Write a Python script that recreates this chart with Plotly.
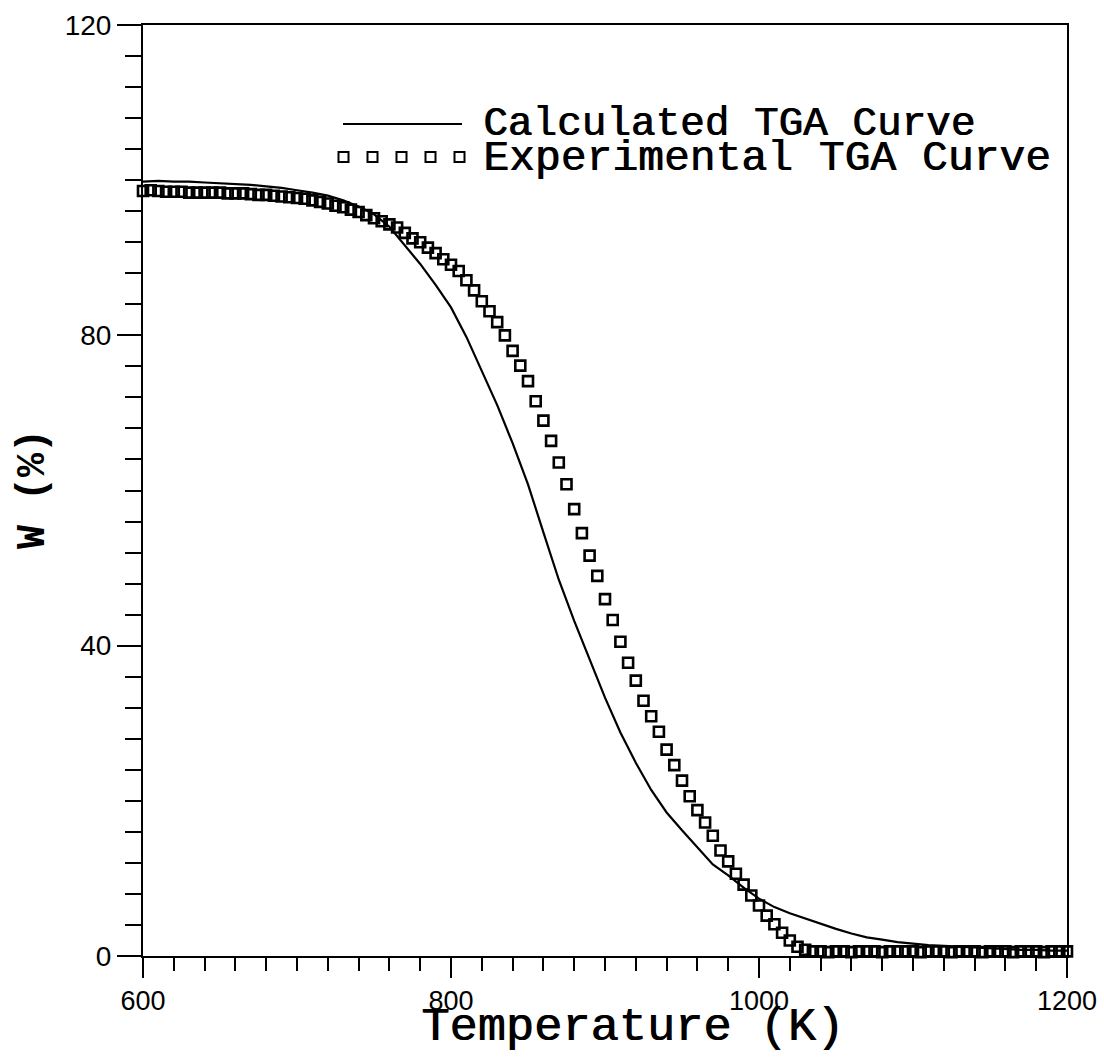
import plotly.graph_objects as go

# Experimental TGA curve (squares), every 5 K
exp_T = list(range(600, 1205, 5))
exp_W = [
    98.6, 98.7, 98.6, 98.5, 98.5, 98.5, 98.4, 98.4, 98.4, 98.4,   # 600-645
    98.4, 98.3, 98.3, 98.3, 98.2, 98.1, 98.1, 98.0, 97.9, 97.8,   # 650-695
    97.7, 97.6, 97.4, 97.2, 97.0, 96.7, 96.5, 96.2, 95.9, 95.5,   # 700-745
    95.1, 94.7, 94.3, 93.9, 93.2, 92.5, 92.0, 91.3, 90.6, 89.8,   # 750-795
    89.1, 88.3, 87.1, 85.8, 84.4, 83.1, 81.7, 80.0, 78.0, 76.1,   # 800-845
    74.1, 71.5, 69.0, 66.4, 63.6, 60.8, 57.6, 54.5, 51.6, 49.0,   # 850-895
    46.0, 43.3, 40.5, 37.8, 35.5, 32.9, 30.9, 28.9, 26.6, 24.6,   # 900-945
    22.6, 20.6, 18.8, 17.2, 15.5, 13.6, 12.2, 10.6, 9.2, 7.8,     # 950-995
    6.5, 5.2, 4.1, 3.0, 2.0, 1.2, 0.8, 0.6, 0.6, 0.5,             # 1000-1045
    0.6, 0.6, 0.5, 0.6, 0.6, 0.6, 0.5, 0.6, 0.6, 0.6,             # 1050-1095
    0.6, 0.5, 0.6, 0.6, 0.6, 0.5, 0.6, 0.6, 0.6, 0.5,             # 1100-1145
    0.6, 0.6, 0.6, 0.5, 0.6, 0.6, 0.6, 0.5, 0.6, 0.6,             # 1150-1195
    0.6,                                                          # 1200
]

# Calculated TGA curve (solid line)
calc_T = [600, 610, 620, 630, 640, 650, 660, 670, 680, 690,
          700, 710, 720, 730, 740, 750, 760, 770, 780, 790,
          800, 810, 820, 830, 840, 850, 860, 870, 880, 890,
          900, 910, 920, 930, 940, 950, 960, 970, 980, 990,
          1000, 1010, 1020, 1030, 1040, 1050, 1060, 1070, 1080, 1090,
          1100, 1110, 1120, 1130, 1140, 1150, 1160, 1170, 1180, 1190, 1200]
calc_W = [99.8, 99.9, 99.8, 99.8, 99.7, 99.6, 99.5, 99.4, 99.2, 99.0,
          98.7, 98.4, 98.0, 97.4, 96.6, 95.6, 94.0, 91.6, 89.2, 86.5,
          83.6, 79.8, 75.5, 71.0, 66.1, 60.8, 54.6, 48.5, 43.2, 38.3,
          33.3, 28.8, 24.9, 21.4, 18.5, 16.2, 14.0, 11.8, 10.4, 8.8,
          7.4, 6.3, 5.5, 4.8, 4.1, 3.5, 2.9, 2.4, 2.1, 1.8,
          1.6, 1.4, 1.3, 1.2, 1.1, 1.0, 0.9, 0.8, 0.8, 0.7, 0.7]

x_ticks = [600, 800, 1000, 1200]
y_ticks = [0, 40, 80, 120]
legend_labels = ["Calculated TGA Curve", "Experimental TGA Curve"]
x_title = "Temperature (K)"
y_title = "W (%)"

TITLE_FONT = "Liberation Mono"
TICK_FONT = "Liberation Sans"
THICK = "0.9px 0px 0px black"

fig = go.Figure()
fig.add_trace(go.Scatter(
    x=calc_T, y=calc_W, mode="lines",
    line=dict(color="black", width=2.2),
    name=legend_labels[0], cliponaxis=False, showlegend=False,
))
fig.add_trace(go.Scatter(
    x=exp_T, y=exp_W, mode="markers",
    marker=dict(symbol="square-open", size=10, color="black",
                line=dict(color="black", width=2.6)),
    name=legend_labels[1], cliponaxis=False, showlegend=False,
))

W, H = 1104, 1061
L, R, T, B = 143, 37, 25, 105
pw, ph = W - L - R, H - T - B

def px(xp):
    return (xp - L) / pw

def py(yp):
    return (H - B - yp) / ph

shapes = []
# legend line sample
shapes.append(dict(type="line", xref="paper", yref="paper",
                   x0=px(343), x1=px(462), y0=py(124), y1=py(124),
                   line=dict(color="black", width=2)))
# legend square samples
for cx in [343.5, 372.5, 401.5, 430.5, 459.5]:
    shapes.append(dict(type="rect", xref="paper", yref="paper",
                       x0=px(cx - 5), x1=px(cx + 5), y0=py(157 + 5), y1=py(157 - 5),
                       line=dict(color="black", width=2), fillcolor="rgba(0,0,0,0)"))

annotations = [
    dict(text=legend_labels[0], xref="paper", yref="paper", x=px(481), y=py(124),
         xanchor="left", yanchor="middle", showarrow=False,
         font=dict(family=TITLE_FONT, size=41, color="black", shadow=THICK)),
    dict(text=legend_labels[1], xref="paper", yref="paper", x=px(481), y=py(158),
         xanchor="left", yanchor="middle", showarrow=False,
         font=dict(family=TITLE_FONT, size=43, color="black", shadow=THICK)),
    dict(text=x_title, xref="paper", yref="paper", x=px(632), y=py(1027),
         xanchor="center", yanchor="middle", showarrow=False,
         font=dict(family=TITLE_FONT, size=47, color="black", shadow=THICK)),
    dict(text="<b>" + y_title + "</b>", xref="paper", yref="paper", x=px(33), y=py(489),
         xanchor="center", yanchor="middle", showarrow=False, textangle=-90,
         font=dict(family=TITLE_FONT, size=40, color="black")),
]

fig.update_layout(
    width=W, height=H,
    margin=dict(l=L, r=R, t=T, b=B, pad=0, autoexpand=False),
    paper_bgcolor="white", plot_bgcolor="white",
    shapes=shapes, annotations=annotations,
    showlegend=False,
)
fig.update_xaxes(
    range=[600, 1200], tickvals=x_ticks, ticktext=[str(v) for v in x_ticks],
    showgrid=False, zeroline=False, automargin=False,
    showline=True, linecolor="black", linewidth=2, mirror=True,
    ticks="outside", ticklen=20, tickwidth=2, tickcolor="black",
    minor=dict(dtick=20, tick0=600, ticks="outside", ticklen=13, tickwidth=2, tickcolor="black", showgrid=False),
    tickfont=dict(family=TICK_FONT, size=27, color="black"),
)
fig.update_yaxes(
    range=[0, 120], tickvals=y_ticks, ticktext=[str(v) for v in y_ticks],
    showgrid=False, zeroline=False, automargin=False,
    showline=True, linecolor="black", linewidth=2, mirror=True,
    ticks="outside", ticklen=24, tickwidth=2, tickcolor="black",
    minor=dict(dtick=4, tick0=0, ticks="outside", ticklen=16, tickwidth=2, tickcolor="black", showgrid=False),
    tickfont=dict(family=TICK_FONT, size=28, color="black"),
)

fig.write_html("out.html")
